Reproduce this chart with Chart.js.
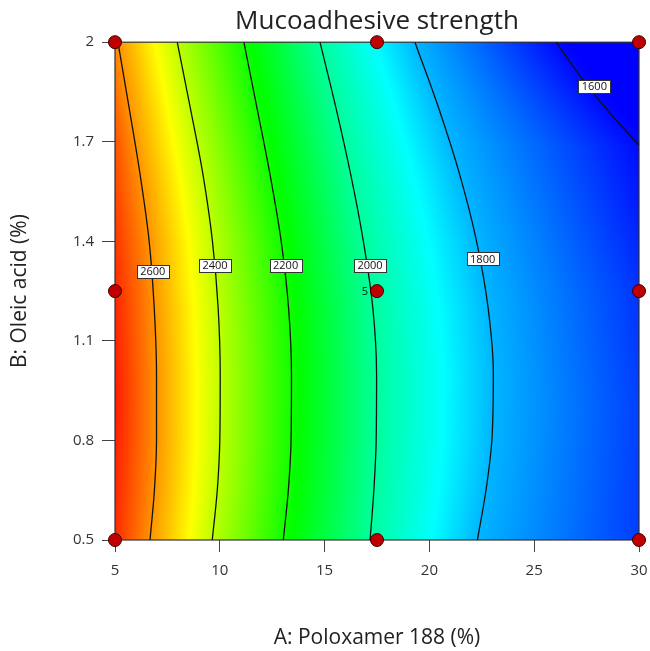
<!DOCTYPE html>
<html>
<head>
<meta charset="utf-8">
<script src="https://cdn.jsdelivr.net/npm/chart.js@4.4.1/dist/chart.umd.min.js"></script>
<style>
  html, body { margin: 0; padding: 0; background: #fff; }
</style>
</head>
<body>
<canvas id="contourChart" width="650" height="651"></canvas>
<script>
// contour levels and the traced iso-lines (A: Poloxamer 188 %, B: Oleic acid %)
const levels = [1600, 1800, 2000, 2200, 2400, 2600];
const contour1600 = [{x:26.04,y:2.0},{x:27.34,y:1.886},{x:28.62,y:1.786},{x:30.0,y:1.69}];
const contour1800 = [{x:19.31,y:2.0},{x:20.45,y:1.8},{x:21.45,y:1.6},{x:22.25,y:1.4},{x:22.80,y:1.2},{x:23.05,y:1.0},{x:22.98,y:0.8},{x:22.70,y:0.65},{x:22.29,y:0.5}];
const contour2000 = [{x:14.78,y:2.0},{x:15.55,y:1.8},{x:16.25,y:1.6},{x:16.85,y:1.4},{x:17.30,y:1.2},{x:17.48,y:1.0},{x:17.46,y:0.8},{x:17.35,y:0.65},{x:17.17,y:0.5}];
const contour2200 = [{x:11.15,y:2.0},{x:11.78,y:1.8},{x:12.40,y:1.6},{x:12.93,y:1.4},{x:13.28,y:1.2},{x:13.42,y:1.0},{x:13.40,y:0.8},{x:13.27,y:0.65},{x:13.03,y:0.5}];
const contour2400 = [{x:7.97,y:2.0},{x:8.60,y:1.8},{x:9.20,y:1.6},{x:9.65,y:1.4},{x:9.92,y:1.2},{x:10.02,y:1.0},{x:10.00,y:0.8},{x:9.88,y:0.65},{x:9.64,y:0.5}];
const contour2600 = [{x:5.14,y:2.0},{x:5.68,y:1.8},{x:6.20,y:1.6},{x:6.63,y:1.4},{x:6.87,y:1.2},{x:6.98,y:1.0},{x:6.98,y:0.8},{x:6.88,y:0.65},{x:6.67,y:0.5}];
const contours = [contour1600, contour1800, contour2000, contour2200, contour2400, contour2600];

// where each level's value tag sits on its line
const labelAt = [{x:27.87,y:1.868},{x:22.54,y:1.347},{x:17.17,y:1.328},{x:13.14,y:1.328},{x:9.77,y:1.328},{x:6.80,y:1.309}];

// response along the left (A=5) and right (A=30) edges
const edgeY = [0.5, 0.9, 1.25, 1.7, 2.0];
const edgeLeft = [2720, 2740, 2725, 2675, 2610];
const edgeRight = [1660, 1665, 1650, 1600, 1530];

// colour ramp: blue, cyan, green, yellow, red
const rampValues = [1590, 1885, 2180, 2475, 2770];
const rampColors = [[0,0,255],[0,255,255],[0,255,0],[255,255,0],[255,0,0]];

// design points
const designA = [5, 17.5, 30, 5, 17.5, 30, 5, 17.5, 30];
const designB = [0.5, 0.5, 0.5, 1.25, 1.25, 1.25, 2, 2, 2];
const centerRuns = 5;

const xTicks = [5, 10, 15, 20, 25, 30];
const yTicks = [0.5, 0.8, 1.1, 1.4, 1.7, 2];

function lerpArr(xs, ys, v) {
  if (v <= xs[0]) return ys[0];
  for (let i = 0; i < xs.length - 1; i++) {
    if (v <= xs[i + 1]) {
      const t = (v - xs[i]) / (xs[i + 1] - xs[i]);
      return ys[i] + (ys[i + 1] - ys[i]) * t;
    }
  }
  return ys[ys.length - 1];
}

function rampColor(v) {
  let c;
  if (v <= rampValues[0]) c = rampColors[0];
  else if (v >= rampValues[4]) c = rampColors[4];
  else {
    for (let i = 0; i < 4; i++) {
      if (v <= rampValues[i + 1]) {
        const t = (v - rampValues[i]) / (rampValues[i + 1] - rampValues[i]);
        c = rampColors[i].map((a, k) => Math.round(a + (rampColors[i + 1][k] - a) * t));
        break;
      }
    }
  }
  return 'rgb(' + c.join(',') + ')';
}

function xOnLine(line, yv) {
  for (let i = 0; i < line.length - 1; i++) {
    const a = line[i], b = line[i + 1];
    const lo = Math.min(a.y, b.y), hi = Math.max(a.y, b.y);
    if (hi > lo && yv >= lo && yv <= hi) {
      return a.x + (b.x - a.x) * (yv - a.y) / (b.y - a.y);
    }
  }
  return null;
}

// filled response surface, painted row by row behind the lines
const surfacePlugin = {
  id: 'surface',
  beforeDatasetsDraw(chart) {
    const {ctx, chartArea: area, scales: {x, y}} = chart;
    const w = area.right - area.left;
    ctx.save();
    for (let py = Math.floor(area.top); py < Math.ceil(area.bottom); py++) {
      const yv = y.getValueForPixel(py + 0.5);
      const stops = [{x: 5, v: lerpArr(edgeY, edgeLeft, yv)}];
      contours.forEach((line, i) => {
        const xv = xOnLine(line, yv);
        if (xv !== null && xv > 5 && xv < 30) stops.push({x: xv, v: levels[i]});
      });
      stops.push({x: 30, v: lerpArr(edgeY, edgeRight, yv)});
      stops.sort((a, b) => a.x - b.x);

      const grad = ctx.createLinearGradient(area.left, 0, area.right, 0);
      const pos = xv => Math.min(1, Math.max(0, (x.getPixelForValue(xv) - area.left) / w));
      for (let i = 0; i < stops.length; i++) {
        const s = stops[i];
        grad.addColorStop(pos(s.x), rampColor(s.v));
        if (i < stops.length - 1) {
          const n = stops[i + 1];
          const knots = rampValues.filter(r => (r - s.v) * (r - n.v) < 0)
            .map(r => ({x: s.x + (n.x - s.x) * (r - s.v) / (n.v - s.v), v: r}))
            .sort((a, b) => a.x - b.x);
          knots.forEach(k => grad.addColorStop(pos(k.x), rampColor(k.v)));
        }
      }
      ctx.fillStyle = grad;
      ctx.fillRect(area.left, py, w, 1);
    }
    ctx.strokeStyle = '#333';
    ctx.lineWidth = 1.2;
    ctx.strokeRect(area.left, area.top, w, area.bottom - area.top);
    ctx.restore();
  },
  afterDatasetsDraw(chart) {
    const {ctx, scales: {x, y}} = chart;
    ctx.save();
    ctx.font = '11px "Open Sans", sans-serif';
    ctx.textAlign = 'center';
    ctx.textBaseline = 'middle';
    levels.forEach((lv, i) => {
      const px = x.getPixelForValue(labelAt[i].x);
      const py = y.getPixelForValue(labelAt[i].y);
      const text = String(lv);
      const tw = Math.round(ctx.measureText(text).width + 7);
      const th = 13;
      const bx = Math.round(px - tw / 2) + 0.5, by = Math.round(py - th / 2) + 0.5;
      ctx.fillStyle = '#fff';
      ctx.fillRect(bx, by, tw, th);
      ctx.strokeStyle = '#333';
      ctx.lineWidth = 1;
      ctx.strokeRect(bx, by, tw, th);
      ctx.fillStyle = '#111';
      ctx.fillText(text, px, py + 0.5);
    });
    // replicate count next to the centre point
    ctx.font = '11px "Open Sans", sans-serif';
    ctx.textAlign = 'right';
    ctx.fillStyle = '#111';
    ctx.fillText(String(centerRuns), x.getPixelForValue(17.5) - 9, y.getPixelForValue(1.25) + 1);
    ctx.restore();
  }
};

const lineSets = contours.map((line, i) => ({
  label: String(levels[i]),
  type: 'line',
  data: line,
  indexAxis: 'y',
  borderColor: '#111',
  borderWidth: 1.3,
  pointRadius: 0,
  cubicInterpolationMode: 'monotone',
  fill: false,
  order: 1
}));

const tickFont = {family: '"Open Sans", sans-serif', size: 15};
const titleFont = {family: '"Open Sans", sans-serif', size: 21};

new Chart(document.getElementById('contourChart'), {
  type: 'scatter',
  data: {
    datasets: [
      {
        label: 'Design points',
        data: designA.map((a, i) => ({x: a, y: designB[i]})),
        pointRadius: 6.5,
        pointBackgroundColor: '#c00000',
        pointBorderColor: '#3a0000',
        pointBorderWidth: 1,
        clip: false,
        order: 0
      },
      ...lineSets
    ]
  },
  plugins: [surfacePlugin],
  options: {
    responsive: false,
    animation: false,
    layout: {padding: {top: 0, right: 11, bottom: 0, left: 0}},
    plugins: {
      legend: {display: false},
      tooltip: {enabled: false},
      title: {
        display: true,
        text: 'Mucoadhesive strength',
        fullSize: false,
        color: '#222',
        font: {family: '"Open Sans", sans-serif', size: 26, weight: 'normal'},
        padding: {top: 6, bottom: 5}
      }
    },
    scales: {
      x: {
        type: 'linear',
        min: 5,
        max: 30,
        afterBuildTicks: s => { s.ticks = xTicks.map(v => ({value: v})); },
        afterFit: s => { s.height = 111; s.paddingLeft = 0; s.paddingRight = 0; },
        border: {display: false},
        grid: {drawOnChartArea: false, drawTicks: true, tickLength: 12, color: '#444'},
        ticks: {font: tickFont, color: '#333', padding: 10, maxRotation: 0},
        title: {display: true, text: 'A: Poloxamer 188 (%)', font: titleFont, color: '#222', padding: {top: 4, bottom: 0}}
      },
      y: {
        type: 'linear',
        min: 0.5,
        max: 2,
        afterBuildTicks: s => { s.ticks = yTicks.map(v => ({value: v})); },
        afterFit: s => { s.width = 115; s.paddingTop = 0; s.paddingBottom = 0; },
        border: {display: false},
        grid: {drawOnChartArea: false, drawTicks: true, tickLength: 13, color: '#444'},
        ticks: {font: tickFont, color: '#333', padding: 8, callback: v => String(v)},
        title: {display: true, text: 'B: Oleic acid (%)', font: titleFont, color: '#222', padding: {top: 7, bottom: 4}}
      }
    }
  }
});
</script>
</body>
</html>
